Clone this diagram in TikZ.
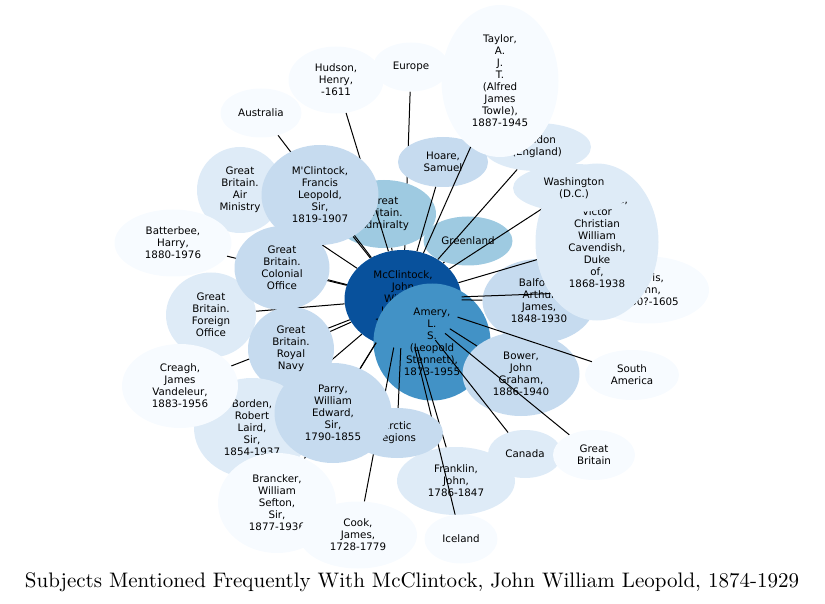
\documentclass[tikz,border=0pt]{standalone}
\usepackage{fontspec}
\newfontfamily\subjfont{DejaVu Sans}[Ligatures=TeXOff]
\newfontfamily\titlefont{lmroman10-regular.otf}
\usetikzlibrary{shapes.geometric}

\definecolor{blueA}{HTML}{F7FBFF}
\definecolor{blueB}{HTML}{DEEBF7}
\definecolor{blueC}{HTML}{C6DBEF}
\definecolor{blueD}{HTML}{9ECAE1}
\definecolor{blueE}{HTML}{4292C6}
\definecolor{blueF}{HTML}{08519C}

\pgfdeclarelayer{back}
\pgfdeclarelayer{mid}
\pgfdeclarelayer{front}
\pgfsetlayers{back,main,mid,front}

\begin{document}
\begin{tikzpicture}[
    x=1pt, y=-1pt,
    subj/.style={ellipse, inner sep=0pt, align=center,
        font=\subjfont\fontsize{10.3}{12}\selectfont},
    sz/.style 2 args={minimum width=#1pt, minimum height=#2pt},
    link/.style={line width=1pt, black},
]
\useasboundingbox (0,0) rectangle (825,604);

% === Subjects drawn below the links ===
\node[subj, sz={108}{48}, fill=blueB] (london) at (537,147) {London\\(England)};
\node[subj, sz={90}{50}, fill=blueC] (hoare) at (443,162) {Hoare,\\Samuel};
\node[subj, sz={117}{152}, fill=blueA] (taylor) at (500,81)
    {Taylor,\\A.\\J.\\T.\\(Alfred\\James\\Towle),\\1887-1945};
\node[subj, sz={76}{49}, fill=blueA] (europe) at (411,67) {Europe};
\node[subj, sz={95}{67}, fill=blueA] (hudson) at (336,80) {Hudson,\\Henry,\\-1611};
\node[subj, sz={81}{49}, fill=blueA] (australia) at (261,113) {Australia};
\node[subj, sz={86}{86}, fill=blueB] (airmin) at (240,190) {Great\\Britain.\\Air\\Ministry};
\node[subj, sz={117}{67}, fill=blueA] (batterbee) at (173,243) {Batterbee,\\Harry,\\1880-1976};
\node[subj, sz={90}{85}, fill=blueB] (foreign) at (211,315) {Great\\Britain.\\Foreign\\Office};
\node[subj, sz={104}{68}, fill=blueD] (admiralty) at (384,214) {Great\\Britain.\\Admiralty};
\node[subj, sz={89}{49}, fill=blueD] (greenland) at (468,241) {Greenland};
\node[subj, sz={122}{67}, fill=blueA] (davis) at (648,290) {Davis,\\John,\\1550?-1605};
\node[subj, sz={113}{84}, fill=blueC] (balfour) at (539,301) {Balfour,\\Arthur\\James,\\1848-1930};
\node[subj, sz={117}{98}, fill=blueF] (mcc) at (403,299)
    {McClintock,\\John\\William\\Leopold,\\1874-1929};
\node[subj, sz={117}{117}, fill=blueE] (amery) at (432,342)
    {Amery,\\L.\\S.\\(Leopold\\Stennett),\\1873-1955};
\node[subj, sz={117}{84}, fill=blueC] (bower) at (521,374) {Bower,\\John\\Graham,\\1886-1940};
\node[subj, sz={94}{50}, fill=blueA] (southam) at (632,375) {South\\America};
\node[subj, sz={118}{68}, fill=blueB] (franklin) at (456,481) {Franklin,\\John,\\1786-1847};
\node[subj, sz={74}{48}, fill=blueB] (canada) at (525,454) {Canada};
\node[subj, sz={82}{50}, fill=blueA] (gbritain) at (594,455) {Great\\Britain};
\node[subj, sz={73}{49}, fill=blueA] (iceland) at (461,539) {Iceland};

% === Subjects drawn above the links ===
\begin{pgfonlayer}{front}
\node[subj, sz={117}{100}, fill=blueC] (mclint) at (320,195)
    {M'Clintock,\\Francis\\Leopold,\\Sir,\\1819-1907};
\node[subj, sz={95}{84}, fill=blueC] (colonial) at (282,268) {Great\\Britain.\\Colonial\\Office};
\node[subj, sz={86}{84}, fill=blueC] (royalnavy) at (291,349) {Great\\Britain.\\Royal\\Navy};
\node[subj, sz={116}{100}, fill=blueB] (borden) at (252,428)
    {Borden,\\Robert\\Laird,\\Sir,\\1854-1937};
\node[subj, sz={116}{84}, fill=blueA] (creagh) at (180,386)
    {Creagh,\\James\\Vandeleur,\\1883-1956};
\node[subj, sz={118}{100}, fill=blueA] (brancker) at (277,503)
    {Brancker,\\William\\Sefton,\\Sir,\\1877-1936};
\node[subj, sz={118}{67}, fill=blueA] (cook) at (358,535) {Cook,\\James,\\1728-1779};
\node[subj, sz={92}{50}, fill=blueC] (arctic) at (397,433) {Arctic\\regions};
\node[subj, sz={117}{100}, fill=blueC] (parry) at (333,413)
    {Parry,\\William\\Edward,\\Sir,\\1790-1855};
\node[subj, sz={123}{157}, fill=blueB] (devonshire) at (597,242)
    {Devonshire,\\Victor\\Christian\\William\\Cavendish,\\Duke\\of,\\1868-1938};
\node[subj, sz={122}{48}, fill=blueB] (washington) at (574,188) {Washington\\(D.C.)};
\end{pgfonlayer}

% === Links from the central subject ===
\begin{pgfonlayer}{mid}
\foreach \leaf in {taylor, london, hoare, hudson, australia, airmin, mclint,
    admiralty, greenland, washington, devonshire, davis, balfour, batterbee,
    colonial, foreign, royalnavy, creagh, borden, brancker, parry, cook,
    arctic, franklin, iceland, canada, gbritain, bower, southam}
    \draw[link] (mcc) -- (\leaf);
\end{pgfonlayer}
\begin{pgfonlayer}{back}
\foreach \leaf in {europe, amery}
    \draw[link] (mcc) -- (\leaf);
\end{pgfonlayer}

% === Title ===
\node (title) at (412,582) {\titlefont\fontsize{21}{25}\selectfont
    Subjects Mentioned Frequently With McClintock, John William Leopold, 1874-1929};

\end{tikzpicture}
\end{document}
